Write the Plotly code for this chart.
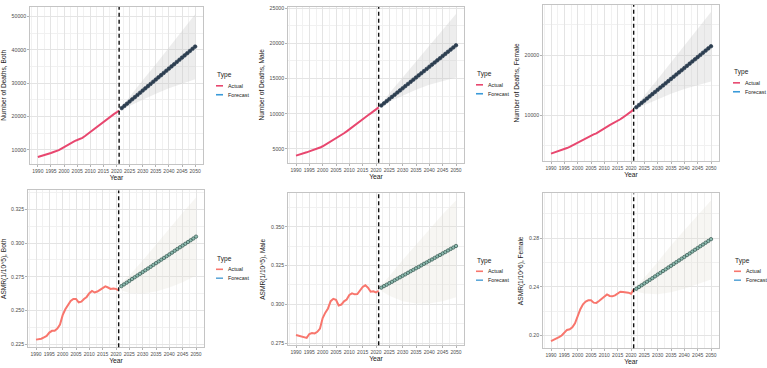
import plotly.graph_objects as go
from plotly.subplots import make_subplots

# ---------------- data ----------------
years_actual = list(range(1990, 2022))
years_forecast = list(range(2022, 2051))
band_years = [2022, 2025, 2030, 2035, 2040, 2045, 2050]
cutoff_year = 2021
x_ticks = list(range(1990, 2051, 5))

# Number of deaths, Both
deaths_both_actual = [7800, 8000, 8250, 8500, 8750, 9000, 9300, 9550, 9850, 10300, 10800, 11300,
                      11750, 12200, 12600, 12900, 13200, 13550, 14100, 14700, 15300, 15900, 16500,
                      17100, 17800, 18500, 19100, 19700, 20200, 20700, 21200, 21800]
deaths_both_forecast = [22500, 23160, 23820, 24480, 25140, 25800, 26460, 27120, 27780, 28440, 29100,
                        29760, 30420, 31080, 31740, 32400, 33060, 33720, 34380, 35040, 35700, 36360,
                        37020, 37680, 38340, 39000, 39660, 40320, 40980]
deaths_both_upper = [22900, 26000, 30900, 35700, 40700, 45700, 50700]
deaths_both_lower = [22100, 23300, 25000, 26800, 28500, 29900, 31200]

# Number of deaths, Male
deaths_male_actual = [4050, 4150, 4270, 4390, 4520, 4660, 4780, 4900, 5050, 5200, 5380, 5600, 5830,
                      6080, 6350, 6600, 6780, 6960, 7230, 7500, 7800, 8080, 8350, 8620, 8900, 9200,
                      9500, 9780, 10050, 10300, 10600, 10900]
deaths_male_forecast = [11170, 11475, 11780, 12085, 12390, 12695, 13000, 13305, 13610, 13915, 14220,
                        14525, 14830, 15135, 15440, 15745, 16050, 16355, 16660, 16965, 17270, 17575,
                        17880, 18185, 18490, 18795, 19100, 19405, 19710]
deaths_male_upper = [11350, 12900, 15150, 17400, 19700, 21900, 24160]
deaths_male_lower = [11000, 11700, 12600, 13400, 14100, 14650, 15140]

# Number of deaths, Female
deaths_female_actual = [3700, 3840, 3980, 4130, 4280, 4430, 4620, 4820, 5050, 5280, 5520, 5780, 6040,
                        6300, 6530, 6720, 6880, 7050, 7340, 7650, 7980, 8200, 8420, 8640, 8860, 9070,
                        9380, 9680, 9980, 10260, 10550, 10980]
deaths_female_forecast = [11370, 11730, 12090, 12450, 12810, 13170, 13530, 13890, 14250, 14610, 14970,
                          15330, 15690, 16050, 16410, 16770, 17130, 17490, 17850, 18210, 18570, 18930,
                          19290, 19650, 20010, 20370, 20730, 21090, 21450]
deaths_female_upper = [11550, 13300, 16000, 18800, 21600, 24400, 27100]
deaths_female_lower = [11150, 11800, 12700, 13600, 14400, 15050, 15630]

# ASMR, Both
asmr_both_actual = [0.2283, 0.2286, 0.2290, 0.2300, 0.2310, 0.2335, 0.2348, 0.2348, 0.2365, 0.2395,
                    0.2465, 0.2508, 0.2535, 0.2570, 0.2585, 0.2585, 0.2560, 0.2565, 0.2585, 0.2600,
                    0.2628, 0.2645, 0.2633, 0.2640, 0.2653, 0.2665, 0.2678, 0.2670, 0.2660, 0.2662,
                    0.2660, 0.2648]
asmr_both_forecast = [0.2680, 0.2693, 0.2706, 0.2719, 0.2733, 0.2746, 0.2759, 0.2772, 0.2785, 0.2798,
                      0.2811, 0.2824, 0.2838, 0.2851, 0.2864, 0.2877, 0.2890, 0.2903, 0.2916, 0.2929,
                      0.2943, 0.2956, 0.2969, 0.2982, 0.2995, 0.3008, 0.3021, 0.3034, 0.3048]
asmr_both_upper = [0.2705, 0.2760, 0.2870, 0.2990, 0.3110, 0.3225, 0.3338]
asmr_both_lower = [0.2650, 0.2630, 0.2625, 0.2640, 0.2670, 0.2710, 0.2760]

# ASMR, Male
asmr_male_actual = [0.2802, 0.2797, 0.2793, 0.2788, 0.2783, 0.2808, 0.2814, 0.2812, 0.2822, 0.2843,
                    0.2911, 0.2946, 0.2973, 0.3020, 0.3035, 0.3029, 0.2992, 0.2998, 0.3019, 0.3031,
                    0.3060, 0.3070, 0.3064, 0.3066, 0.3091, 0.3112, 0.3122, 0.3107, 0.3081, 0.3084,
                    0.3076, 0.3087]
asmr_male_forecast = [0.3107, 0.3117, 0.3126, 0.3136, 0.3145, 0.3155, 0.3165, 0.3174, 0.3184, 0.3193,
                      0.3203, 0.3213, 0.3222, 0.3232, 0.3241, 0.3251, 0.3261, 0.3270, 0.3280, 0.3289,
                      0.3299, 0.3309, 0.3318, 0.3328, 0.3337, 0.3347, 0.3357, 0.3366, 0.3376]
asmr_male_upper = [0.3125, 0.3180, 0.3285, 0.3385, 0.3485, 0.3580, 0.3670]
asmr_male_lower = [0.3085, 0.3055, 0.3020, 0.3005, 0.3005, 0.3020, 0.3045]

# ASMR, Female
asmr_female_actual = [0.1954, 0.1963, 0.1973, 0.1986, 0.2000, 0.2022, 0.2046, 0.2051, 0.2067, 0.2100,
                      0.2162, 0.2216, 0.2257, 0.2279, 0.2289, 0.2289, 0.2270, 0.2268, 0.2284, 0.2303,
                      0.2325, 0.2338, 0.2325, 0.2322, 0.2330, 0.2346, 0.2360, 0.2357, 0.2355, 0.2352,
                      0.2343, 0.2378]
asmr_female_forecast = [0.2384, 0.2399, 0.2413, 0.2428, 0.2442, 0.2457, 0.2471, 0.2486, 0.2501, 0.2515,
                        0.2530, 0.2544, 0.2559, 0.2573, 0.2588, 0.2603, 0.2617, 0.2632, 0.2646, 0.2661,
                        0.2675, 0.2690, 0.2705, 0.2719, 0.2734, 0.2748, 0.2763, 0.2777, 0.2792]
asmr_female_upper = [0.2405, 0.2475, 0.2605, 0.2740, 0.2865, 0.2990, 0.3110]
asmr_female_lower = [0.2360, 0.2345, 0.2340, 0.2355, 0.2385, 0.2420, 0.2460]

y_titles = ["Number of Deaths, Both", "Number of Deaths, Male", "Number of Deaths, Female",
            "ASMR(1/10^5), Both", "ASMR(1/10^5), Male", "ASMR(1/10^6), Female"]
legend_title = "Type"
legend_labels = ["Actual", "Forecast"]

# ---------------- styling / layout ----------------
W, H = 767, 368
panels = [
    dict(a=deaths_both_actual, f=deaths_both_forecast, u=deaths_both_upper, l=deaths_both_lower,
         yr=[5800, 52900], dt=10000, fmt="d", row=1),
    dict(a=deaths_male_actual, f=deaths_male_forecast, u=deaths_male_upper, l=deaths_male_lower,
         yr=[3050, 25150], dt=5000, fmt="d", row=1),
    dict(a=deaths_female_actual, f=deaths_female_forecast, u=deaths_female_upper, l=deaths_female_lower,
         yr=[2530, 28270], dt=10000, fmt="d", row=1),
    dict(a=asmr_both_actual, f=asmr_both_forecast, u=asmr_both_upper, l=asmr_both_lower,
         yr=[0.2227, 0.3391], dt=0.025, fmt=".3f", row=2),
    dict(a=asmr_male_actual, f=asmr_male_forecast, u=asmr_male_upper, l=asmr_male_lower,
         yr=[0.2736, 0.3715], dt=0.025, fmt=".3f", row=2),
    dict(a=asmr_female_actual, f=asmr_female_forecast, u=asmr_female_upper, l=asmr_female_lower,
         yr=[0.1896, 0.3168], dt=0.04, fmt=".2f", row=2),
]
# plot-area boxes in pixels (left, right, top, bottom)
boxes = [(30, 203, 5, 163), (288, 464, 5, 162), (543, 719, 3, 160),
         (28, 204, 190, 348), (288, 464, 193, 346), (543, 719, 193, 349)]
# legend anchors in pixels (left, title y)
legend_pos = [(215, 74), (475, 73), (732, 71), (215, 259), (475, 261), (733, 261)]

style = {
    1: dict(actual="#E8476F", fc_marker="#2C3E50", fc_line="#2C3E50", fc_edge="#2C3E50",
            msize=3.6, band="rgba(200,200,200,0.32)", leg_fc="#3A9AD9"),
    2: dict(actual="#F8766D", fc_marker="#8DBBB0", fc_line="#3E6B64", fc_edge="#35564F",
            msize=3.4, band="rgba(228,222,212,0.28)", leg_fc="#5FA8D8"),
}

fig = make_subplots(rows=2, cols=3)
font = "Liberation Sans, Arial, sans-serif"
grid_major = "#E4E4E4"
grid_minor = "#F1F1F1"
border = "#C4C4C4"
tickc = "#4D4D4D"

for i, p in enumerate(panels):
    r, c = i // 3 + 1, i % 3 + 1
    st = style[p["row"]]
    # confidence band
    fig.add_trace(go.Scatter(x=band_years + band_years[::-1], y=p["u"] + p["l"][::-1],
                             fill="toself", fillcolor=st["band"], line=dict(width=0),
                             mode="lines", showlegend=False, hoverinfo="skip"), row=r, col=c)
    # actual
    fig.add_trace(go.Scatter(x=years_actual, y=p["a"], mode="lines",
                             line=dict(color=st["actual"], width=2), showlegend=False,
                             name="Actual"), row=r, col=c)
    # forecast
    fig.add_trace(go.Scatter(x=years_forecast, y=p["f"], mode="lines+markers",
                             line=dict(color=st["fc_line"], width=1.2),
                             marker=dict(size=st["msize"], color=st["fc_marker"],
                                         line=dict(color=st["fc_edge"], width=0.7)),
                             showlegend=False, name="Forecast"), row=r, col=c)

    L, R, T, B = boxes[i]
    xa = "xaxis" if i == 0 else f"xaxis{i+1}"
    ya = "yaxis" if i == 0 else f"yaxis{i+1}"
    fig.layout[xa].update(
        domain=[L / W, R / W], range=[1987, 2053], tickmode="array", tickvals=x_ticks,
        tickangle=0,
        showgrid=True, gridcolor=grid_major, gridwidth=0.8,
        minor=dict(tickmode="array", tickvals=[x + 2.5 for x in x_ticks[:-1]] + [1987.5],
                   showgrid=True, gridcolor=grid_minor, gridwidth=0.5, ticks=""),
        showline=True, mirror=True, linecolor=border, linewidth=0.8,
        ticks="outside", ticklen=2, tickcolor="#B3B3B3", tickwidth=0.6,
        tickfont=dict(size=5.0, color=tickc, family=font), zeroline=False,
        title=dict(text="Year", font=dict(size=6.8, color="#222222", family=font), standoff=1),
    )
    fig.layout[ya].update(
        domain=[1 - B / H, 1 - T / H], range=p["yr"], tick0=0, dtick=p["dt"],
        tickformat=p["fmt"], showgrid=True, gridcolor=grid_major, gridwidth=0.8,
        minor=dict(tick0=0, dtick=p["dt"] / 2, showgrid=True, gridcolor=grid_minor,
                   gridwidth=0.5, ticks=""),
        showline=True, mirror=True, linecolor=border, linewidth=0.8,
        ticks="outside", ticklen=2, tickcolor="#B3B3B3", tickwidth=0.6,
        tickfont=dict(size=5.2, color=tickc, family=font), zeroline=False,
        title=dict(text=y_titles[i], font=dict(size=6.6, color="#222222", family=font), standoff=4),
    )
    # dashed cutoff line
    xref = "x" if i == 0 else f"x{i+1}"
    yref = "y domain" if i == 0 else f"y{i+1} domain"
    fig.add_shape(type="line", xref=xref, yref=yref, x0=cutoff_year, x1=cutoff_year, y0=0, y1=1,
                  line=dict(color="#111111", width=1.4, dash="4px,3px"))

    # legend (per panel)
    lx, ly = legend_pos[i]
    fig.add_annotation(xref="paper", yref="paper", x=lx / W, y=1 - ly / H, xanchor="left",
                       yanchor="middle", text=legend_title, showarrow=False,
                       font=dict(size=6.6, color="#222222", family=font))
    for k, (lab, col) in enumerate(zip(legend_labels, [st["actual"], st["leg_fc"]])):
        yy = ly + 10.5 + 9 * k
        fig.add_shape(type="line", xref="paper", yref="paper", x0=(lx + 1) / W, x1=(lx + 8) / W,
                      y0=1 - yy / H, y1=1 - yy / H, line=dict(color=col, width=1.6))
        fig.add_annotation(xref="paper", yref="paper", x=(lx + 11) / W, y=1 - yy / H,
                           xanchor="left", yanchor="middle", text=lab, showarrow=False,
                           font=dict(size=5.4, color="#222222", family=font))

fig.update_layout(width=W, height=H, margin=dict(l=0, r=0, t=0, b=0),
                  paper_bgcolor="white", plot_bgcolor="white", showlegend=False,
                  font=dict(family=font))
fig.write_html("out.html")
